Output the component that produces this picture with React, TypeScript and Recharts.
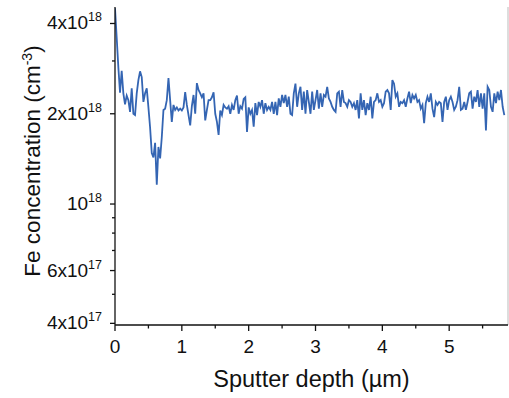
import React from 'react';
import { LineChart, Line, XAxis, YAxis, ReferenceLine } from 'recharts';

// Fe concentration profile, values in units of 1e18 cm^-3, sampled every 0.025 µm
const depthStep = 0.025;
const feConc = [
  4.5, 3.6, 2.86, 2.35, 2.78, 2.34, 2.15, 2.3, 2.22, 2.03,
  2.43, 2.0, 1.98, 2.34, 2.59, 2.77, 2.65, 2.19, 2.34, 2.43,
  2.1, 1.8, 1.48, 1.43, 1.6, 1.16, 1.55, 1.42, 1.67, 2.06,
  2.08, 2.22, 2.63, 2.22, 1.88, 2.14, 2.06, 2.1, 2.05, 2.08,
  2.05, 2.1, 2.36, 2.14, 1.98, 1.83, 2.12, 2.31, 2.0, 2.53,
  2.4, 2.34, 2.27, 2.34, 1.9, 2.06, 2.22, 2.22, 2.27, 2.36,
  2.0, 1.88, 1.7, 2.05, 1.98, 2.14, 2.1, 2.08, 2.12, 2.0,
  2.14, 2.06, 2.22, 2.3, 2.0, 2.12, 2.08, 2.24, 2.27, 1.74,
  2.1, 2.0, 2.06, 1.81, 2.17, 1.98, 2.19, 2.11, 2.22, 2.0,
  2.17, 2.06, 2.11, 2.06, 2.19, 2.0, 2.19, 1.98, 2.25, 2.11,
  2.31, 2.17, 2.31, 2.11, 2.28, 2.0, 1.98, 2.34, 2.52, 2.11,
  2.34, 2.46, 2.06, 2.37, 2.0, 2.4, 2.19, 2.0, 2.37, 2.06,
  2.22, 2.4, 2.08, 2.34, 2.11, 2.31, 2.28, 2.46, 2.25, 2.19,
  2.11, 2.06, 2.03, 2.34, 2.37, 2.11, 2.4, 2.19, 2.17, 2.11,
  2.22, 2.19, 2.11, 2.17, 2.06, 2.22, 1.93, 2.34, 2.06, 2.22,
  1.98, 2.17, 2.06, 2.28, 1.93, 2.19, 2.22, 2.34, 2.19, 2.22,
  2.11, 2.17, 2.37, 2.4, 2.34, 2.06, 2.59, 2.52, 2.28, 2.34,
  2.11, 2.19, 2.17, 2.22, 2.11, 2.25, 2.37, 2.17, 2.31, 2.25,
  2.31, 2.19, 2.22, 2.08, 2.14, 1.86, 2.17, 2.28, 2.19, 2.34,
  2.08, 1.95, 2.19, 2.14, 2.19, 2.17, 1.88, 2.19, 2.28, 2.06,
  2.22, 2.28, 2.19, 2.06, 2.11, 2.22, 2.46, 2.06, 2.08, 2.19,
  2.06, 2.19, 2.34, 2.37, 2.08, 2.28, 2.19, 2.4, 2.11, 2.34,
  2.08, 2.34, 1.76, 2.46, 2.4, 2.11, 2.03, 2.34, 2.17, 2.37,
  2.22, 2.4, 2.11, 1.98,
];

const xTicks = [0, 0.5, 1, 1.5, 2, 2.5, 3, 3.5, 4, 4.5, 5, 5.5];
const yMajorTicks = [0.4, 0.6, 1, 2, 4];
const yMantissa = ['4x10', '6x10', '10', '2x10', '4x10'];
const yExponent = ['17', '17', '18', '18', '18'];
const yMinorTicks = [0.5, 0.7, 0.8, 0.9, 3];

const data = feConc.map((v, i) => ({ depth: +(i * depthStep).toFixed(3), fe: v }));

const FONT = '"Liberation Sans", Arial, sans-serif';
const INK = '#111';
const BLUE = '#3465b3';

const BottomTick = ({ x, y, payload }: any) => {
  const v = payload.value;
  const major = Number.isInteger(v);
  return (
    <g>
      <line x1={x} x2={x} y1={y} y2={y + (major ? 6 : 3.5)} stroke={INK} strokeWidth={1.3} />
      {major && (
        <text x={x} y={y + 28} textAnchor="middle" fontSize={19} fontFamily={FONT} fill={INK}>
          {v}
        </text>
      )}
    </g>
  );
};

const TopTick = ({ x, y, payload }: any) => {
  const major = Number.isInteger(payload.value);
  return <line x1={x} x2={x} y1={y} y2={y - (major ? 6 : 3.5)} stroke={INK} strokeWidth={1.3} />;
};

const LeftTick = ({ x, y, payload }: any) => {
  const k = yMajorTicks.indexOf(payload.value);
  const major = k >= 0;
  return (
    <g>
      <line x1={x - (major ? 5 : 3)} x2={x} y1={y} y2={y} stroke={INK} strokeWidth={1.3} />
      {major && (
        <text x={x - 13} y={y + 6} textAnchor="end" fontSize={19} fontFamily={FONT} fill={INK}>
          <tspan>{yMantissa[k]}</tspan>
          <tspan dy={-8} fontSize={12.5}>{yExponent[k]}</tspan>
        </text>
      )}
    </g>
  );
};

export default function App() {
  return (
    <div style={{ position: 'absolute', left: 0, top: 0, width: 509, height: 398, background: '#fff' }}>
      <LineChart width={509} height={398} data={data} margin={{ top: 7, right: 1, bottom: 0, left: 0 }}>
        <XAxis
          dataKey="depth"
          type="number"
          domain={[0, 5.88]}
          allowDataOverflow
          ticks={xTicks}
          interval={0}
          height={73}
          tickSize={0}
          tickMargin={0}
          tick={BottomTick}
          axisLine={{ stroke: INK, strokeWidth: 1.3 }}
        />
        <XAxis
          xAxisId="top"
          orientation="top"
          type="number"
          domain={[0, 5.88]}
          allowDataOverflow
          ticks={xTicks}
          interval={0}
          height={0}
          tickSize={0}
          tickMargin={0}
          tick={TopTick}
          axisLine={{ stroke: INK, strokeWidth: 1.3 }}
        />
        <YAxis
          type="number"
          scale="log"
          domain={[0.395, 4.54]}
          allowDataOverflow
          ticks={[...yMajorTicks, ...yMinorTicks]}
          interval={0}
          width={115}
          tickSize={0}
          tickMargin={0}
          tick={LeftTick}
          axisLine={{ stroke: INK, strokeWidth: 1.3 }}
        />
        <ReferenceLine x={5.88} stroke="#bbb" strokeWidth={1} />
        <Line
          type="linear"
          dataKey="fe"
          stroke={BLUE}
          strokeWidth={1.8}
          dot={false}
          isAnimationActive={false}
        />
        <text x={311.5} y={387} textAnchor="middle" fontSize={23.5} fontFamily={FONT} fill={INK}>
          Sputter depth (µm)
        </text>
        <text
          x={40}
          y={161}
          transform="rotate(-90, 40, 161)"
          textAnchor="middle"
          fontSize={22.5}
          fontFamily={FONT}
          fill={INK}
        >
          <tspan>Fe concentration (cm</tspan>
          <tspan dy={-8} fontSize={14}>-3</tspan>
          <tspan dy={8}>)</tspan>
        </text>
      </LineChart>
    </div>
  );
}
